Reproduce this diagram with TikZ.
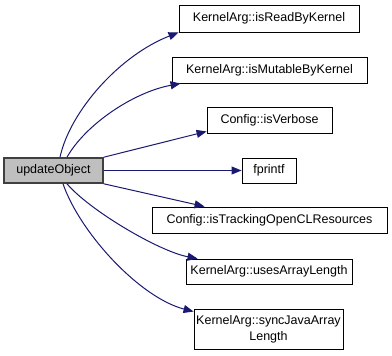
\documentclass[tikz,border=0pt]{standalone}
\usepackage{fontspec}
\setmainfont{Liberation Sans}
\usetikzlibrary{arrows.meta}
\definecolor{edgeblue}{HTML}{191970}
\definecolor{rootfill}{HTML}{BFBFBF}
\begin{document}
\begin{tikzpicture}[x=1pt,y=-1pt,
  fnbox/.style={draw=black, fill=white, line width=0.9pt, inner sep=0pt,
    font=\fontsize{12.5}{16}\selectfont, align=center},
  root/.style={fnbox, fill=rootfill, draw=black!75, line width=1.6pt},
  call/.style={draw=edgeblue, line width=1pt, -{Triangle[length=10pt,width=8pt]}}]
\useasboundingbox (0,0) rectangle (392,356);

% caller and callees
\node[root,  minimum width=99,  minimum height=25] (upd) at (53.5,170.5) {updateObject};
\node[fnbox, minimum width=180, minimum height=27] (rbk) at (269,18.5) {KernelArg::isReadByKernel};
\node[fnbox, minimum width=195, minimum height=26] (mut) at (269.5,70) {KernelArg::isMutableByKernel};
\node[fnbox, minimum width=125, minimum height=26] (vrb) at (269.5,120) {Config::isVerbose};
\node[fnbox, minimum width=54,  minimum height=25] (fpr) at (269,170.5) {fprintf};
\node[fnbox, minimum width=235, minimum height=26] (trk) at (269.5,220) {Config::isTrackingOpenCLResources};
\node[fnbox, minimum width=166, minimum height=25] (ual) at (269,271.5) {KernelArg::usesArrayLength};
\node[fnbox, minimum width=149, minimum height=40] (sjv) at (268.5,329) {KernelArg::syncJavaArray\\Length};

% call edges
\draw[call] ([xshift=6.5pt]upd.north) .. controls +(10,-46) and +(-59,23) .. (rbk.south west);
\draw[call] ([xshift=13.5pt]upd.north) .. controls +(18,-32) and +(-48,9) .. ([xshift=9pt]mut.south west);
\draw[call] (upd.north east) -- ([yshift=2pt]vrb.south west);
\draw[call] (upd.east) -- (fpr.west);
\draw[call] (upd.south east) -- ([xshift=53pt]trk.north west);
\draw[call] ([xshift=13.5pt]upd.south) .. controls +(23,27) and +(-38,-7) .. ([xshift=12pt]ual.north west);
\draw[call] ([xshift=9.5pt]upd.south) .. controls +(17,49) and +(-54,-14) .. ([yshift=-3pt]sjv.north west);
\end{tikzpicture}
\end{document}
